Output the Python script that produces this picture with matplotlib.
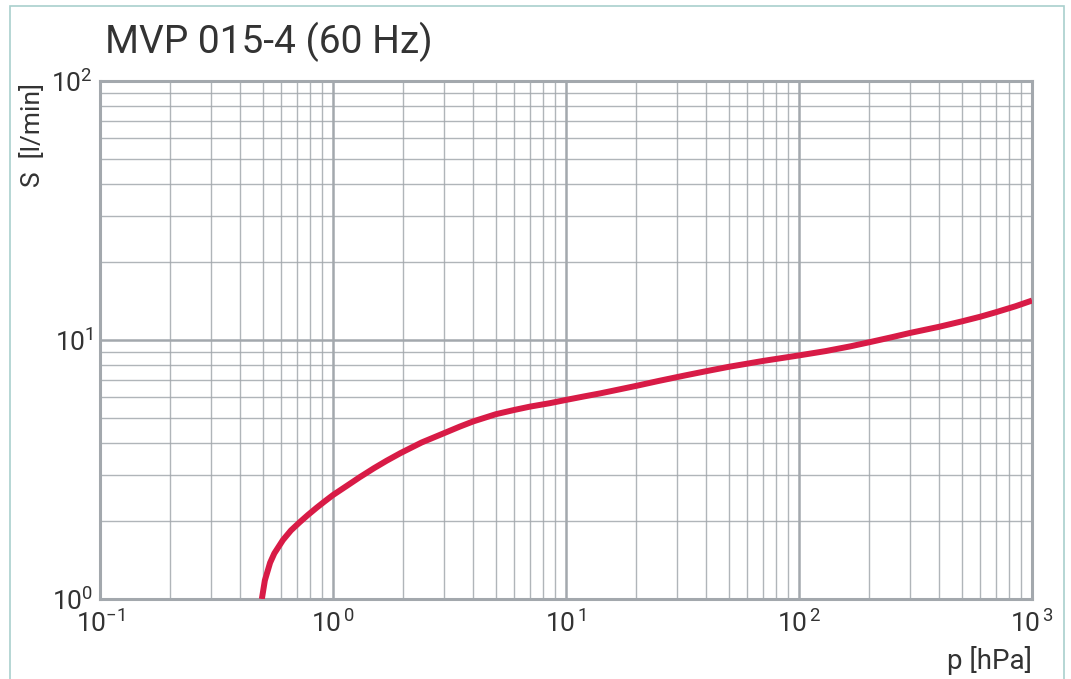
import matplotlib
matplotlib.use("Agg")
import matplotlib.pyplot as plt
from matplotlib.patches import Rectangle

# Saugvermögen MVP 015-4 bei 60 Hz
druck = [0.495, 0.51, 0.537, 0.56, 0.61, 0.66, 0.72, 0.78, 0.85, 0.92, 1.0,
         1.15, 1.3, 1.5, 1.7, 1.95, 2.4, 3.0, 3.5, 4.0, 5.0, 6.0, 7.0, 8.5,
         10, 12, 14, 17, 20, 25, 32, 40, 50, 70, 100, 130, 166, 200, 250,
         300, 400, 500, 600, 700, 850, 1000]
saugv = [1.0, 1.18, 1.38, 1.5, 1.69, 1.84, 1.98, 2.11, 2.25, 2.38, 2.52,
         2.74, 2.95, 3.2, 3.42, 3.66, 4.02, 4.37, 4.63, 4.85, 5.17, 5.37, 5.53, 5.7,
         5.87, 6.06, 6.22, 6.45, 6.65, 6.95, 7.28, 7.58, 7.88, 8.3, 8.72, 9.06, 9.45, 9.8, 10.25,
         10.65, 11.25, 11.8, 12.3, 12.8, 13.5, 14.2]

x_ticks = [0.1, 1, 10, 100, 1000]
x_labels = [r'$10^{-1}$', r'$10^{\,0}$', r'$10^{\,1}$', r'$10^{\,2}$', r'$10^{\,3}$']
y_ticks = [1, 10, 100]
y_labels = [r'$10^{0}$', r'$10^{1}$', r'$10^{2}$']

plt.rcParams['font.family'] = ['Roboto', 'DejaVu Sans']
plt.rcParams['mathtext.fontset'] = 'custom'
plt.rcParams['mathtext.rm'] = 'Roboto'
plt.rcParams['mathtext.it'] = 'Roboto'
plt.rcParams['mathtext.default'] = 'rm'

texto = '#333333'
grau = '#a3a8ad'

fig = plt.figure(figsize=(10.71, 6.79), dpi=100)
ax = fig.add_axes([100/1071, 1-599/679, 932/1071, 518/679])

ax.plot(druck, saugv, color='#d81b46', lw=4.3, solid_capstyle='butt',
        solid_joinstyle='round', zorder=3)

ax.set_xscale('log')
ax.set_yscale('log')
ax.set_xlim(0.1, 1000)
ax.set_ylim(1, 100)

ax.set_xticks(x_ticks)
ax.set_xticklabels(x_labels)
ax.set_yticks(y_ticks)
ax.set_yticklabels(y_labels)
ax.tick_params(which='both', length=0, labelsize=19, colors=texto)
ax.tick_params(axis='x', pad=8)
ax.tick_params(axis='y', pad=5)

ax.grid(True, which='major', color=grau, lw=1.8)
ax.grid(True, which='minor', color=grau, lw=1.0, alpha=0.85)
ax.set_axisbelow(True)
for s in ax.spines.values():
    s.set_color(grau)
    s.set_linewidth(2.2)

fig.text(105/1071, 1-53/679, 'MVP 015-4 (60 Hz)', fontsize=28, color=texto,
         ha='left', va='baseline')
fig.text(1032/1071, 1-669/679, 'p [hPa]', fontsize=20, color=texto,
         ha='right', va='baseline')
fig.text(33/1071, 1-83/679, 'S  [l/min]', fontsize=19, color=texto,
         rotation=90, ha='center', va='top')

# Rahmen
fig.patches.append(Rectangle((10/1071, -0.1), 1054/1071, 1.1-6/679,
                             transform=fig.transFigure, fill=False,
                             edgecolor='#a9d0cd', lw=1.2))

fig.savefig('out.png', dpi=100)
